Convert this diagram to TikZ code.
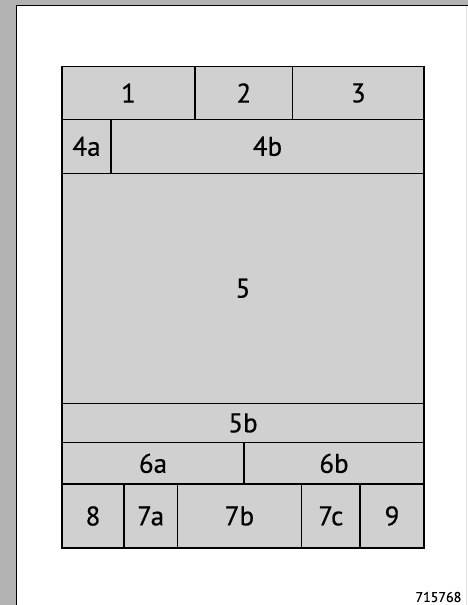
\documentclass[tikz,border=0pt]{standalone}
\usepackage{fontspec}
\setmainfont{PT Sans}[FakeBold=0.6]
\definecolor{bggray}{HTML}{B3B3B3}
\definecolor{cellgray}{HTML}{D0D0D0}
\tikzset{
  cell/.style={draw=black, fill=cellgray, line width=1.5pt, rectangle, inner sep=0pt, outer sep=0pt,
    font=\fontsize{27}{31}\selectfont},
}
\newcommand{\mycell}[6]{%
  \node[cell, minimum width={(#4-#2)*1pt}, minimum height={(#5-#3)*1pt}] (#1) at ({(#2+#4)/2},{(#3+#5)/2}) {#6};}
\begin{document}
\begin{tikzpicture}[x=1pt,y=-1pt]
\useasboundingbox (0,0) rectangle (468,605);
\fill[bggray] (0,0) rectangle (468,605);
\draw[fill=white, line width=1.5pt] (16.6,5.4) rectangle (475,615);
\draw[black!12, line width=0.8pt] (466.6,6.2) -- (466.6,605);
% row 1
\mycell{c1}{62}{66.7}{195}{119.3}{1}
\mycell{c2}{195}{66.7}{292.7}{119.3}{2}
\mycell{c3}{292.7}{66.7}{424}{119.3}{3}
% row 2
\mycell{c4a}{62}{119.3}{111}{173.3}{4a}
\mycell{c4b}{111}{119.3}{424}{173.3}{4b}
% row 3
\mycell{c5}{62}{173.3}{424}{403.3}{5}
% row 4
\mycell{c5b}{62}{403.3}{424}{442.7}{5b}
% row 5
\mycell{c6a}{62}{442.7}{244}{484}{6a}
\mycell{c6b}{244}{442.7}{424}{484}{6b}
% row 6
\mycell{c8}{62}{484}{124}{548}{8}
\mycell{c7a}{124}{484}{177.3}{548}{7a}
\mycell{c7b}{177.3}{484}{301.7}{548}{7b}
\mycell{c7c}{301.7}{484}{360}{548}{7c}
\mycell{c9}{360}{484}{424}{548}{9}
\node[anchor=east, inner sep=0pt, font=\fontsize{14}{16}\selectfont] (num) at (461.5,597) {715768};
\end{tikzpicture}
\end{document}
